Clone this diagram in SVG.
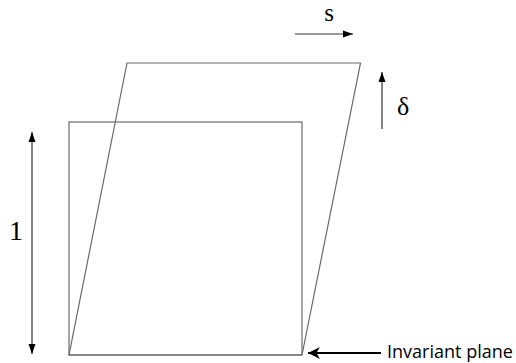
<svg xmlns="http://www.w3.org/2000/svg" width="516" height="363" viewBox="0 0 516 363">
<style>
.shape{fill:none;stroke:#6a6a6a;stroke-width:1.2}
.arr{stroke:#333;stroke-width:1.2;fill:none}
.serif{font-family:"Liberation Serif","Times New Roman",serif;fill:#000}
.sans{font-family:"Open Sans","Liberation Sans",sans-serif;fill:#000}
</style>
<defs>
<marker id="ah" viewBox="0 0 10 10" refX="10" refY="5" markerWidth="10" markerHeight="10" markerUnits="userSpaceOnUse" orient="auto-start-reverse">
<path d="M0,1.5 L10,5 L0,8.5 Z" fill="#000"/>
</marker>
<marker id="ah2" viewBox="0 0 10 10" refX="10" refY="5" markerWidth="16" markerHeight="12" markerUnits="userSpaceOnUse" orient="auto">
<path d="M0,0 L10,5 L0,10 L3,5 Z" fill="#000"/>
</marker>
</defs>
<g id="square"><rect class="shape" x="69" y="122" width="233" height="233"/></g>
<g id="parallelogram"><polygon class="shape" points="69,355 302,355 360.5,63 127,63"/></g>
<g id="connectors">
<line id="s-arrow" class="arr" x1="295" y1="34" x2="353" y2="34" marker-end="url(#ah)"/>
<line id="delta-arrow" class="arr" x1="382" y1="129" x2="382" y2="72" marker-end="url(#ah)"/>
<line id="unit-arrow" class="arr" x1="32" y1="132" x2="32" y2="354" marker-start="url(#ah)" marker-end="url(#ah)"/>
<line id="plane-arrow" stroke="#000" stroke-width="2" x1="381" y1="353" x2="308" y2="353" marker-end="url(#ah2)"/>
</g>
<g id="labels">
<text class="serif" x="329" y="21" font-size="25" text-anchor="middle">s</text>
<text class="serif" x="397" y="115" font-size="26">δ</text>
<text class="serif" x="16" y="240" font-size="28" text-anchor="middle">1</text>
<text class="sans" x="387" y="358" font-size="17.5" textLength="126" lengthAdjust="spacingAndGlyphs">Invariant plane</text>
</g>
</svg>
